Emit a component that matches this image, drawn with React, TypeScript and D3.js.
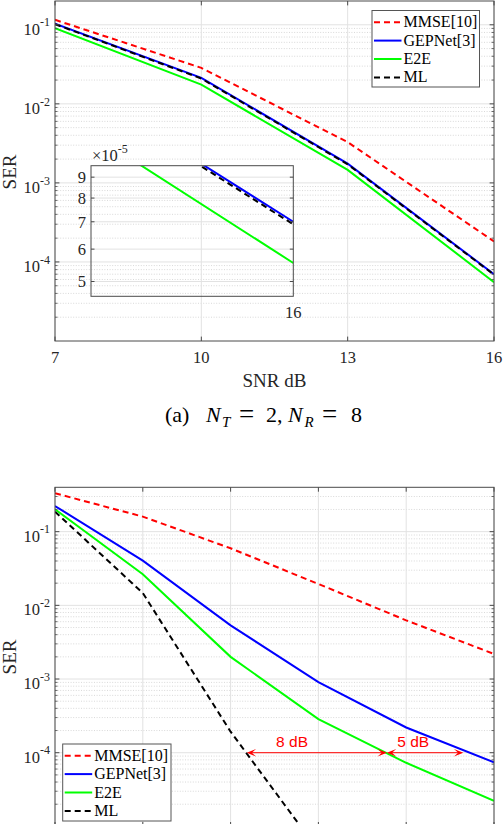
import React, { useEffect, useRef } from 'react';
import * as d3 from 'd3';

const W = 504;
const H = 824;

// panel (a): N_T = 2, N_R = 8
const snrA = [7, 10, 13, 16];
const mmseA = [0.1156, 0.0285, 3.28e-3, 1.82e-4];
const gepA = [0.103, 0.0213, 1.75e-3, 7.0e-5];
const e2eA = [0.0908, 0.0175, 1.46e-3, 5.55e-5];
const mlA = [0.102, 0.0209, 1.72e-3, 6.9e-5];
const xTicksA = [7, 10, 13, 16];
const insetTicks = [5, 6, 7, 8, 9];

// panel (b)
const snrB = [0, 5, 10, 15, 20, 25];
const snrMlB = [0, 5, 10, 15];
const mmseB = [0.332, 0.16, 0.0595, 0.0195, 6.26e-3, 2.19e-3];
const gepB = [0.223, 0.0405, 5.35e-3, 9.1e-4, 2.2e-4, 7.4e-5];
const e2eB = [0.201, 0.0264, 2.0e-3, 2.86e-4, 7.3e-5, 2.23e-5];
const mlB = [0.187, 0.0147, 1.93e-4, 4.7e-6];
const xTicksB = [0, 5, 10, 15, 20, 25];

const decades = [1e-1, 1e-2, 1e-3, 1e-4, 1e-5];

const seriesNames = ['MMSE[10]', 'GEPNet[3]', 'E2E', 'ML'];
const seriesColors = ['#ff0000', '#0000ff', '#00ff00', '#000000'];
const seriesDash = ['6,4', null, null, '6,4'];

// gain annotation in panel (b)
const gapLevel = 1e-4;
const gapArrows = [[10.92, 18.9], [18.9, 23.25]];
const gapLabels = ['8 dB', '5 dB'];
const gapLabelX = [13.5, 20.4];

const SERIF = '"Liberation Serif", "Times New Roman", serif';
const SANS = '"Liberation Sans", Arial, sans-serif';
const AXIS = '#4a4a4a';

type Pt = [number, number];

function drawPanel(svg: any, cfg: any) {
  const { id, left, right, top, bottom, xDomain, yDomain, xTicks, series, showXLabels } = cfg;
  const x = d3.scaleLinear().domain(xDomain).range([left, right]);
  const y = d3.scaleLog().domain(yDomain).range([bottom, top]);
  const g = svg.append('g');

  // minor log grid
  const minors: number[] = [];
  for (let e = -6; e <= 0; e++) {
    for (let m = 2; m <= 9; m++) {
      const v = m * Math.pow(10, e);
      if (v > yDomain[0] && v < yDomain[1]) minors.push(v);
    }
  }
  const majors = decades.filter(v => v > yDomain[0] * 1.01 && v <= yDomain[1]);

  g.selectAll('.minor').data(minors).enter().append('line')
    .attr('x1', left).attr('x2', right)
    .attr('y1', (d: number) => y(d)).attr('y2', (d: number) => y(d))
    .attr('stroke', '#c8c8c8').attr('stroke-width', 0.7).attr('stroke-dasharray', '1,1.6');
  g.selectAll('.majorY').data(majors).enter().append('line')
    .attr('x1', left).attr('x2', right)
    .attr('y1', (d: number) => y(d)).attr('y2', (d: number) => y(d))
    .attr('stroke', '#e2e2e2').attr('stroke-width', 1);
  g.selectAll('.majorX').data(xTicks).enter().append('line')
    .attr('x1', (d: number) => x(d)).attr('x2', (d: number) => x(d))
    .attr('y1', top).attr('y2', bottom)
    .attr('stroke', '#e2e2e2').attr('stroke-width', 1);

  const defs = svg.append('defs');
  defs.append('clipPath').attr('id', id)
    .append('rect').attr('x', left).attr('y', top).attr('width', right - left).attr('height', bottom - top);

  const line = d3.line<Pt>().x(d => x(d[0])).y(d => y(d[1]));
  const lines = g.append('g').attr('clip-path', `url(#${id})`);
  series.forEach((s: any, i: number) => {
    const pts: Pt[] = s.x.map((v: number, k: number) => [v, s.y[k]]);
    lines.append('path').attr('d', line(pts)).attr('fill', 'none')
      .attr('stroke', seriesColors[i]).attr('stroke-width', 2)
      .attr('stroke-dasharray', seriesDash[i]);
  });

  // frame and ticks
  g.append('rect').attr('x', left).attr('y', top).attr('width', right - left).attr('height', bottom - top)
    .attr('fill', 'none').attr('stroke', AXIS).attr('stroke-width', 1);
  const tl = 4.4;
  xTicks.forEach((t: number) => {
    g.append('line').attr('x1', x(t)).attr('x2', x(t)).attr('y1', bottom).attr('y2', bottom - tl).attr('stroke', AXIS);
    g.append('line').attr('x1', x(t)).attr('x2', x(t)).attr('y1', top).attr('y2', top + tl).attr('stroke', AXIS);
  });
  majors.forEach(t => {
    g.append('line').attr('x1', left).attr('x2', left + tl).attr('y1', y(t)).attr('y2', y(t)).attr('stroke', AXIS);
    g.append('line').attr('x1', right).attr('x2', right - tl).attr('y1', y(t)).attr('y2', y(t)).attr('stroke', AXIS);
  });
  minors.forEach(t => {
    g.append('line').attr('x1', left).attr('x2', left + 2.5).attr('y1', y(t)).attr('y2', y(t)).attr('stroke', AXIS).attr('stroke-width', 0.8);
    g.append('line').attr('x1', right).attr('x2', right - 2.5).attr('y1', y(t)).attr('y2', y(t)).attr('stroke', AXIS).attr('stroke-width', 0.8);
  });

  // tick labels
  majors.forEach(t => {
    const tx = g.append('text').attr('x', left - 5).attr('y', y(t) + 10)
      .attr('text-anchor', 'end').attr('font-family', SERIF).attr('font-size', 16.5).attr('fill', '#262626');
    tx.append('tspan').text('10');
    tx.append('tspan').attr('dy', -8.3).attr('font-size', 12).text(String(Math.round(Math.log10(t))));
  });
  if (showXLabels) {
    xTicks.forEach((t: number) => {
      g.append('text').attr('x', x(t)).attr('y', bottom + 22).attr('text-anchor', 'middle')
        .attr('font-family', SERIF).attr('font-size', 16.5).attr('fill', '#262626').text(String(t));
    });
    g.append('text').attr('x', (left + right) / 2).attr('y', bottom + 46).attr('text-anchor', 'middle')
      .attr('font-family', SERIF).attr('font-size', 19).attr('fill', '#262626').text('SNR dB');
  }
  g.append('text').attr('transform', `translate(16,${cfg.yLabelAt}) rotate(-90)`)
    .attr('text-anchor', 'middle').attr('font-family', SERIF).attr('font-size', 19).attr('fill', '#262626').text('SER');

  return { x, y, g };
}

function drawLegend(g: any, bx: number, by: number, bw: number, bh: number) {
  g.append('rect').attr('x', bx).attr('y', by).attr('width', bw).attr('height', bh)
    .attr('fill', '#fff').attr('stroke', '#555').attr('stroke-width', 1);
  seriesNames.forEach((name, i) => {
    const base = by + 16.7 + i * 18.4;
    g.append('line').attr('x1', bx + 2).attr('x2', bx + 29.5).attr('y1', base - 5).attr('y2', base - 5)
      .attr('stroke', seriesColors[i]).attr('stroke-width', 2).attr('stroke-dasharray', seriesDash[i]);
    g.append('text').attr('x', bx + 31.5).attr('y', base).attr('font-family', SERIF).attr('font-size', 16)
      .attr('fill', '#000').text(name);
  });
}

const App: React.FC = () => {
  const svgRef = useRef<SVGSVGElement | null>(null);

  useEffect(() => {
    if (!svgRef.current) return;
    const svg = d3.select(svgRef.current);
    svg.selectAll('*').remove();

    // ---- panel (a)
    const a = drawPanel(svg, {
      id: 'clipA', left: 55, right: 494, top: 1, bottom: 341,
      xDomain: [7, 16], yDomain: [1e-5, 0.2], xTicks: xTicksA, showXLabels: true, yLabelAt: 172,
      series: [
        { x: snrA, y: mmseA }, { x: snrA, y: gepA }, { x: snrA, y: e2eA }, { x: snrA, y: mlA },
      ],
    });

    // zoomed inset around 16 dB (transparent background)
    const ix = d3.scaleLinear().domain([15.33, 16]).range([91, 293.3]);
    const iy = d3.scaleLog().domain([4.6e-5, 9.6e-5]).range([296.3, 165.7]);
    const ig = a.g.append('g');
    insetTicks.forEach(t => {
      ig.append('line').attr('x1', 91).attr('x2', 293.3).attr('y1', iy(t * 1e-5)).attr('y2', iy(t * 1e-5))
        .attr('stroke', '#e2e2e2').attr('stroke-width', 1);
    });
    svg.select('defs').append('clipPath').attr('id', 'clipInset')
      .append('rect').attr('x', 91).attr('y', 165.7).attr('width', 202.3).attr('height', 130.6);
    const iline = d3.line<Pt>().x(d => ix(d[0])).y(d => iy(d[1]));
    const ilines = ig.append('g').attr('clip-path', 'url(#clipInset)');
    [gepA, e2eA, mlA].forEach((vals, k) => {
      const i = k + 1;
      const pts: Pt[] = snrA.map((v, j) => [v, vals[j]]);
      ilines.append('path').attr('d', iline(pts)).attr('fill', 'none')
        .attr('stroke', seriesColors[i]).attr('stroke-width', 2).attr('stroke-dasharray', seriesDash[i]);
    });
    ig.append('rect').attr('x', 91).attr('y', 165.7).attr('width', 202.3).attr('height', 130.6)
      .attr('fill', 'none').attr('stroke', AXIS).attr('stroke-width', 1);
    insetTicks.forEach(t => {
      const yy = iy(t * 1e-5);
      ig.append('line').attr('x1', 91).attr('x2', 94.5).attr('y1', yy).attr('y2', yy).attr('stroke', AXIS);
      ig.append('line').attr('x1', 293.3).attr('x2', 289.8).attr('y1', yy).attr('y2', yy).attr('stroke', AXIS);
      ig.append('text').attr('x', 86).attr('y', yy + 5.8).attr('text-anchor', 'end')
        .attr('font-family', SERIF).attr('font-size', 16.5).attr('fill', '#262626').text(String(t));
    });
    const mult = ig.append('text').attr('x', 92).attr('y', 161).attr('font-family', SERIF)
      .attr('font-size', 16.5).attr('fill', '#262626');
    mult.append('tspan').text('\u00d710');
    mult.append('tspan').attr('dy', -8).attr('font-size', 12).text('-5');
    ig.append('text').attr('x', ix(16)).attr('y', 318).attr('text-anchor', 'middle')
      .attr('font-family', SERIF).attr('font-size', 16.5).attr('fill', '#262626').text('16');

    drawLegend(a.g, 372, 10.5, 107.5, 76.5);

    // caption
    const cap = svg.append('text').attr('y', 421.7).attr('font-family', SERIF).attr('font-size', 22).attr('fill', '#000');
    cap.append('tspan').attr('x', 165).text('(a)');
    cap.append('tspan').attr('x', 206).attr('font-style', 'italic').text('N');
    cap.append('tspan').attr('x', 222).attr('dy', 5).attr('font-size', 15).attr('font-style', 'italic').text('T');
    cap.append('tspan').attr('x', 239).attr('dy', -4).attr('font-size', 27).text('=');
    cap.append('tspan').attr('x', 266).attr('dy', -1).text('2,');
    cap.append('tspan').attr('x', 288).attr('font-style', 'italic').text('N');
    cap.append('tspan').attr('x', 304.5).attr('dy', 5).attr('font-size', 15).attr('font-style', 'italic').text('R');
    cap.append('tspan').attr('x', 322).attr('dy', -4).attr('font-size', 27).text('=');
    cap.append('tspan').attr('x', 351).attr('dy', -1).text('8');

    // ---- panel (b)
    const b = drawPanel(svg, {
      id: 'clipB', left: 55, right: 494, top: 487.3, bottom: 826.4,
      xDomain: [0, 25], yDomain: [1e-5, 0.4], xTicks: xTicksB, showXLabels: false, yLabelAt: 657,
      series: [
        { x: snrB, y: mmseB }, { x: snrB, y: gepB }, { x: snrB, y: e2eB }, { x: snrMlB, y: mlB },
      ],
    });

    const ay = b.y(gapLevel);
    const L = 9.3;
    const HW = 3.8;
    const head = (tip: number, dir: number) =>
      `M${tip},${ay} L${tip - dir * L},${ay - HW} L${tip - dir * L * 0.55},${ay} L${tip - dir * L},${ay + HW} Z`;
    gapArrows.forEach(([s, e], i) => {
      const x1 = b.x(s);
      const x2 = b.x(e);
      b.g.append('line').attr('x1', x1 + 4).attr('x2', x2 - 4).attr('y1', ay).attr('y2', ay)
        .attr('stroke', '#ff0000').attr('stroke-width', 1);
      b.g.append('path').attr('d', head(x1, -1)).attr('fill', '#ff0000');
      b.g.append('path').attr('d', head(x2, 1)).attr('fill', '#ff0000');
      b.g.append('text').attr('x', b.x(gapLabelX[i])).attr('y', ay - 6).attr('text-anchor', 'middle')
        .attr('font-family', SANS).attr('font-size', 15.5).attr('fill', '#ff0000').text(gapLabels[i]);
    });

    drawLegend(b.g, 62.7, 744, 108.3, 77);
  }, []);

  return (
    <svg ref={svgRef} width={W} height={H}
      style={{ position: 'absolute', left: 0, top: 0, background: '#fff', display: 'block' }} />
  );
};

export default App;
